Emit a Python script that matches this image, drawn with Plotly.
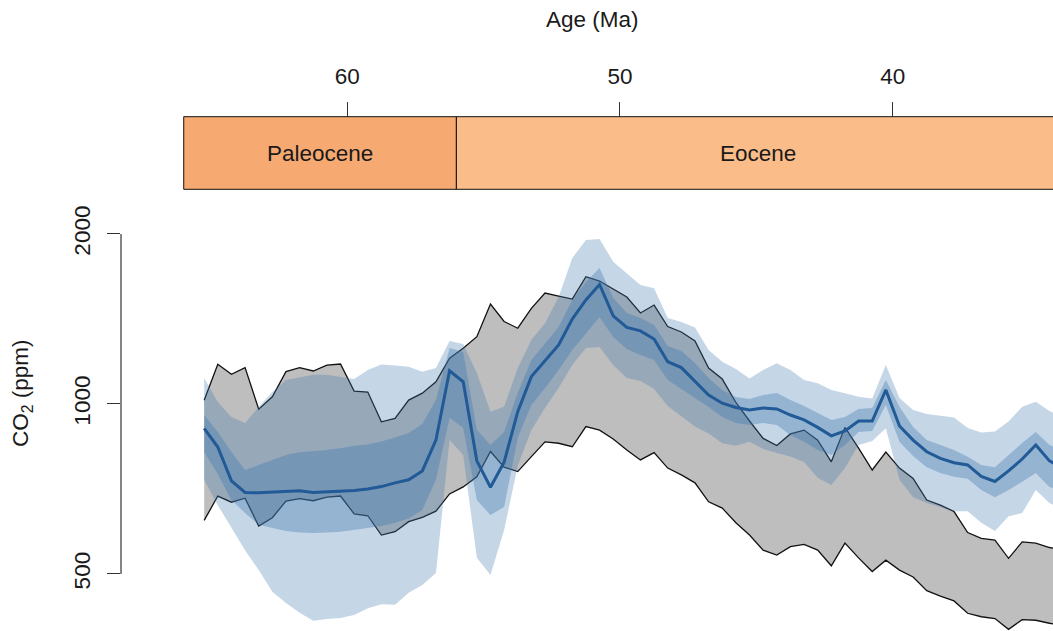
import math
import plotly.graph_objects as go

# ---- data -------------------------------------------------------------
# age of each estimate (Ma), oldest first
ages = [65.25, 64.75, 64.25, 63.75, 63.25, 62.75, 62.25, 61.75, 61.25, 60.75,
        60.25, 59.75, 59.25, 58.75, 58.25, 57.75, 57.25, 56.75, 56.25, 55.75,
        55.25, 54.75, 54.25, 53.75, 53.25, 52.75, 52.25, 51.75, 51.25, 50.75,
        50.25, 49.75, 49.25, 48.75, 48.25, 47.75, 47.25, 46.75, 46.25, 45.75,
        45.25, 44.75, 44.25, 43.75, 43.25, 42.75, 42.25, 41.75, 41.25, 40.75,
        40.25, 39.75, 39.25, 38.75, 38.25, 37.75, 37.25, 36.75, 36.25, 35.75,
        35.25, 34.75, 34.25, 33.75]

# previous reconstruction envelope (ppm)
prior_upper = [1015, 1176, 1129, 1160, 979, 1030, 1141, 1160, 1144, 1172,
               1177, 1054, 1050, 930, 943, 1016, 1045, 1095, 1205, 1255,
               1316, 1503, 1400, 1362, 1477, 1572, 1553, 1534, 1680, 1651,
               1598, 1547, 1449, 1497, 1371, 1341, 1293, 1158, 1107, 1006,
               933, 869, 844, 885, 899, 863, 790, 909, 835, 764,
               822, 770, 738, 676, 662, 645, 592, 578, 574, 533,
               570, 567, 557, 552]
prior_lower = [622, 687, 670, 681, 608, 629, 673, 680, 674, 684,
               687, 639, 634, 586, 594, 619, 630, 646, 693, 713,
               743, 824, 773, 759, 807, 857, 852, 840, 912, 899,
               867, 829, 796, 820, 770, 749, 725, 671, 654, 616,
               586, 551, 540, 559, 564, 551, 517, 567, 534, 505,
               529, 508, 494, 467, 457, 448, 426, 420, 417, 399,
               415, 414, 409, 405]

# new CO2 estimate: median with 50 % and 95 % intervals (ppm)
co2_median = [905, 839, 731, 697, 696, 698, 699, 702, 697, 699,
              700, 703, 707, 714, 725, 734, 761, 863, 1145, 1095,
              793, 712, 789, 969, 1118, 1192, 1272, 1414, 1528, 1628,
              1432, 1366, 1347, 1303, 1188, 1160, 1098, 1037, 1003, 986,
              976, 984, 980, 956, 937, 909, 878, 896, 933, 933,
              1059, 914, 863, 823, 801, 787, 780, 744, 729, 761,
              799, 846, 793, 770]
ci95_upper = [1112, 1008, 948, 925, 988, 1050, 1103, 1116, 1126, 1126,
              1116, 1107, 1149, 1175, 1170, 1164, 1141, 1158, 1293, 1277,
              1135, 969, 989, 1158, 1298, 1390, 1547, 1814, 1952, 1960,
              1786, 1704, 1625, 1603, 1420, 1397, 1366, 1246, 1188, 1153,
              1110, 1149, 1181, 1149, 1103, 1088, 1059, 1045, 1030, 1023,
              1172, 1025, 976, 960, 952, 946, 907, 890, 894, 931,
              989, 1009, 972, 950]
ci95_lower = [734, 662, 603, 551, 508, 465, 444, 427, 413, 416,
              418, 423, 435, 442, 441, 463, 478, 502, 863, 812,
              534, 498, 598, 777, 899, 984, 1067, 1172, 1257, 1262,
              1172, 1112, 1098, 1063, 992, 952, 912, 887, 852, 843,
              857, 832, 819, 807, 789, 740, 719, 770, 846, 860,
              906, 734, 684, 668, 657, 646, 646, 616, 596, 633,
              641, 704, 668, 650]
ci50_upper = [956, 892, 822, 764, 780, 796, 812, 821, 824, 829,
              835, 843, 848, 858, 872, 888, 922, 1016, 1256, 1236,
              899, 846, 892, 1046, 1197, 1282, 1369, 1528, 1645, 1741,
              1541, 1449, 1420, 1380, 1267, 1241, 1182, 1112, 1059, 1029,
              1021, 1037, 1046, 1016, 992, 964, 937, 948, 980, 984,
              1103, 988, 910, 863, 846, 829, 806, 780, 773, 812,
              853, 892, 846, 825]
ci50_lower = [822, 752, 676, 641, 611, 603, 596, 592, 591, 592,
              594, 598, 603, 608, 616, 627, 649, 734, 945, 907,
              676, 636, 657, 871, 996, 1067, 1149, 1246, 1336, 1426,
              1314, 1251, 1221, 1197, 1103, 1063, 1025, 988, 948, 925,
              918, 925, 918, 881, 857, 829, 812, 846, 892, 896,
              996, 857, 809, 773, 755, 743, 737, 704, 684, 704,
              728, 755, 713, 700]

# geological epochs (Ma)
epoch_names = ["Paleocene", "Eocene"]
epoch_start = [66.0, 56.0]
epoch_end = [56.0, 33.9]
epoch_colors = ["#F6A971", "#FABD89"]

age_ticks = [60, 50, 40]
co2_ticks = [500, 1000, 2000]

# ---- layout constants ---------------------------------------------------
W, H = 1053, 631
FONT = "Liberation Sans, Arial, Helvetica, sans-serif"
TXT = "#1a1a1a"
FS = 22.5

x_range = [68.30, 34.12]
x_domain = [121 / W, 1.0]
y_log_range = [2.5980, 3.3612]
y_domain = [0.0, (H - 200) / H]
bar_y0, bar_y1 = (H - 189.3) / H, (H - 116.7) / H
age_axis_pos = bar_y1

BLUE_LINE = "rgb(33,90,150)"
BAND_OUTER = "rgba(62,118,176,0.30)"
BAND_INNER = "rgba(62,118,176,0.36)"
PRIOR_FILL = "#BEBEBE"


def band(upper, lower):
    return ages + ages[::-1], upper + lower[::-1]


def y_frac(v):
    lo, hi = y_log_range
    return y_domain[0] + (math.log10(v) - lo) / (hi - lo) * (y_domain[1] - y_domain[0])


fig = go.Figure()

# previous envelope: grey fill, black outline on top and bottom
bx, by = band(prior_upper, prior_lower)
fig.add_trace(go.Scatter(x=bx, y=by, mode="lines", fill="toself",
                         fillcolor=PRIOR_FILL, line=dict(width=0),
                         hoverinfo="skip", showlegend=False))
for series in (prior_upper, prior_lower):
    fig.add_trace(go.Scatter(x=ages, y=series, mode="lines",
                             line=dict(color="#111111", width=1.3),
                             hoverinfo="skip", showlegend=False))

# credible intervals, translucent so the envelope shows through
for up, lo, col in ((ci95_upper, ci95_lower, BAND_OUTER),
                    (ci50_upper, ci50_lower, BAND_INNER)):
    bx, by = band(up, lo)
    fig.add_trace(go.Scatter(x=bx, y=by, mode="lines", fill="toself",
                             fillcolor=col, line=dict(width=0),
                             hoverinfo="skip", showlegend=False))

fig.add_trace(go.Scatter(x=ages, y=co2_median, mode="lines",
                         line=dict(color=BLUE_LINE, width=3),
                         showlegend=False))

shapes = []
annotations = []
# epoch bar
for name, a0, a1, col in zip(epoch_names, epoch_start, epoch_end, epoch_colors):
    shapes.append(dict(type="rect", xref="x", yref="paper",
                       x0=a0, x1=a1, y0=bar_y0, y1=bar_y1,
                       fillcolor=col, line=dict(color="#111111", width=1),
                       layer="above"))
    annotations.append(dict(text=name, xref="x", yref="paper",
                            x=(a0 + a1) / 2, y=(bar_y0 + bar_y1) / 2,
                            xanchor="center", yanchor="middle",
                            showarrow=False, font=dict(size=FS, color=TXT)))

# left axis line, spanning the labelled ticks only
shapes.append(dict(type="line", xref="paper", yref="paper",
                   x0=x_domain[0], x1=x_domain[0],
                   y0=y_frac(co2_ticks[0]), y1=y_frac(co2_ticks[-1]),
                   line=dict(color="#333333", width=1.2)))

annotations.append(dict(text="Age (Ma)", xref="paper", yref="paper",
                        x=592 / W, y=(H - 20) / H,
                        xanchor="center", yanchor="middle", showarrow=False,
                        font=dict(size=FS, color=TXT)))
annotations.append(dict(text="CO<sub>2</sub> (ppm)", xref="paper", yref="paper",
                        x=22 / W, y=(H - 393) / H, textangle=-90,
                        xanchor="center", yanchor="middle",
                        showarrow=False, font=dict(size=FS, color=TXT)))

fig.update_layout(
    width=W, height=H,
    margin=dict(l=0, r=0, t=0, b=0),
    paper_bgcolor="white", plot_bgcolor="white",
    font=dict(family=FONT, size=FS, color=TXT),
    showlegend=False,
    shapes=shapes,
    annotations=annotations,
    xaxis=dict(domain=x_domain, range=x_range, side="top",
               anchor="free", position=age_axis_pos,
               tickvals=age_ticks, ticktext=[str(t) for t in age_ticks],
               ticks="outside", ticklen=15, tickwidth=1.2, tickcolor="#333333",
               ticklabelstandoff=9,
               showgrid=False, zeroline=False, showline=False,
               tickfont=dict(size=FS, color=TXT)),
    yaxis=dict(type="log", domain=y_domain, range=y_log_range,
               tickvals=co2_ticks, ticktext=[str(t) for t in co2_ticks],
               tickangle=-90, ticks="outside", ticklen=13, tickwidth=1.2,
               tickcolor="#333333", ticklabelstandoff=8,
               showgrid=False, zeroline=False, showline=False,
               tickfont=dict(size=FS, color=TXT)),
)

fig.write_html("out.html")
